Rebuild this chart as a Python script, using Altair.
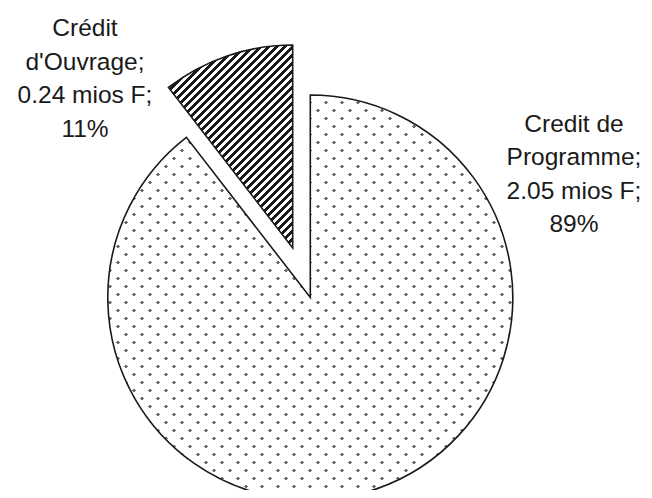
import altair as alt
import pandas as pd
import math

# ---- data ----
categories = ["Credit de Programme", "Crédit d'Ouvrage"]
label_names = ["Credit de\nProgramme;", "Crédit\nd'Ouvrage;"]
values = [2.05, 0.24]          # mios F
percents = ["89%", "11%"]
order = [0, 1]

df = pd.DataFrame({
    "category": categories,
    "name": label_names,
    "value": values,
    "pct": percents,
    "order": order,
})

# ---- styles ----
INK = "#1a1a1a"
FONT = "Liberation Sans"


def band_stops(total, period, band, band_color, gap_color):
    """hard-edged repeating stops along a gradient of length `total` px."""
    stops = []
    n = int(total / period) + 1
    for i in range(n):
        s = i * period / total
        m = (i * period + (period - band)) / total
        e = (i + 1) * period / total
        if s > 1:
            break
        stops.append({"offset": min(s, 1), "color": gap_color})
        stops.append({"offset": min(m, 1), "color": gap_color})
        stops.append({"offset": min(m, 1), "color": band_color})
        stops.append({"offset": min(e, 1), "color": band_color})
    return stops


# big slice: dotted texture = gray under two crossing sets of white bands
R_BIG = 202.5
D = 2 * R_BIG
TRANSP = "rgba(255,255,255,0)"
dots_a = {"gradient": "linear", "x1": 0, "y1": 0, "x2": 1, "y2": 1,
          "stops": band_stops(2 * D, 16, 11.8, "#ffffff", TRANSP)}
dots_b = {"gradient": "linear", "x1": 1, "y1": 0, "x2": 0, "y2": 1,
          "stops": band_stops(2 * D, 16, 11.8, "#ffffff", TRANSP)}

# small slice: diagonal stripes
R_SMALL = 203
w = R_SMALL * math.sin(2 * math.pi * 0.105)
h = R_SMALL
k = (w + h) / (w * w + h * h)
stripes = {"gradient": "linear", "x1": 0, "y1": 0, "x2": k * w, "y2": k * h,
           "stops": band_stops(w + h, 8, 3.6, INK, "#ffffff")}

base = (
    alt.Chart(df)
    .transform_joinaggregate(total="sum(value)")
    .transform_window(cum="sum(value)", sort=[alt.SortField("order")], frame=[None, 0])
    .transform_calculate(
        t0="(datum.cum - datum.value) / datum.total * 2 * PI",
        t1="datum.cum / datum.total * 2 * PI",
    )
)

arc_enc = dict(
    theta=alt.Theta("t0:Q", scale=None),
    theta2=alt.Theta2("t1:Q"),
)

big = base.transform_filter("datum.order == 0")
big_pos = dict(x=alt.value(302.3), y=alt.value(289.5))
big_gray = big.mark_arc(radius=R_BIG, fill="#6e6e6e", strokeWidth=0).encode(**arc_enc, **big_pos)
big_a = big.mark_arc(radius=R_BIG, fill=dots_a, strokeWidth=0).encode(**arc_enc, **big_pos)
big_b = big.mark_arc(radius=R_BIG, fill=dots_b, stroke=INK, strokeWidth=1.6,
                     strokeJoin="miter").encode(**arc_enc, **big_pos)

small = base.transform_filter("datum.order == 1")
small_arc = small.mark_arc(radius=R_SMALL, fill=stripes, stroke=INK, strokeWidth=1.6,
                           strokeJoin="miter").encode(
    **arc_enc, x=alt.value(284.7), y=alt.value(240)
)

text_common = dict(fontSize=24.5, font=FONT, color=INK, align="center",
                   baseline="alphabetic", lineBreak="\n", lineHeight=33.5)
label_calc = "datum.name + '\\n' + format(datum.value, '.2f') + ' mios F;\\n' + datum.pct"

big_label = (
    big.transform_calculate(label=label_calc)
    .mark_text(**text_common)
    .encode(text="label:N", x=alt.value(566), y=alt.value(123.5))
)
small_label = (
    small.transform_calculate(label=label_calc)
    .mark_text(**text_common)
    .encode(text="label:N", x=alt.value(77), y=alt.value(28.3))
)

chart = (
    alt.layer(big_gray, big_a, big_b, small_arc, big_label, small_label)
    .properties(width=636, height=482, padding=0, autosize="none", background="white")
    .configure_view(stroke=None)
)

chart.save("out.html", embed_options={"renderer": "svg", "actions": False})
